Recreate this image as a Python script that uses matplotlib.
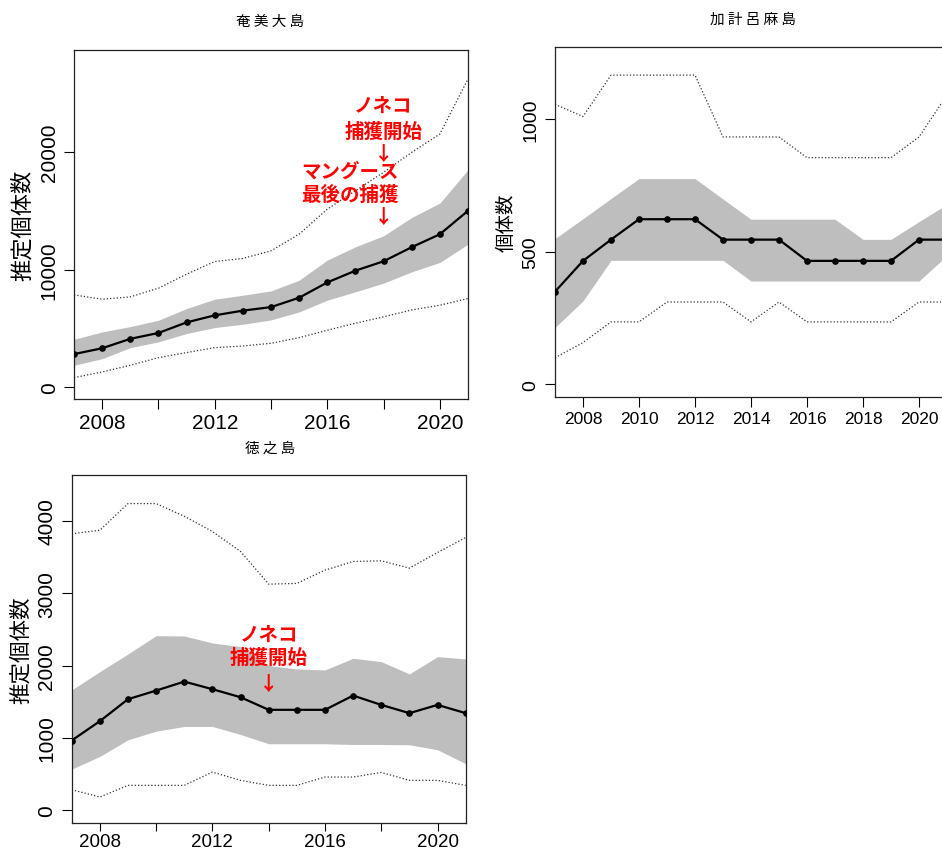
import numpy as np
import matplotlib
matplotlib.use('Agg')
import matplotlib.pyplot as plt

plt.rcParams['font.family'] = ['Liberation Sans', 'Noto Sans CJK JP', 'DejaVu Sans']

years = list(range(2007, 2022))

# 奄美大島
amami_mean = [2800, 3300, 4100, 4600, 5500, 6100, 6500, 6800, 7600, 8900, 9900, 10700, 11900, 13000, 15000]
amami_lo50 = [1850, 2410, 3350, 3840, 4550, 5060, 5340, 5710, 6390, 7390, 8100, 8840, 9800, 10600, 12160]
amami_hi50 = [4060, 4690, 5140, 5680, 6680, 7470, 7810, 8180, 9090, 10800, 11930, 12870, 14430, 15650, 18490]
amami_lo95 = [800, 1280, 1850, 2500, 2930, 3350, 3490, 3720, 4200, 4830, 5430, 5970, 6560, 6960, 7530]
amami_hi95 = [7840, 7470, 7670, 8410, 9600, 10680, 10940, 11590, 13010, 15140, 16700, 18270, 19970, 21530, 26220]

# 加計呂麻島
kakeroma_mean = [349, 465, 545, 622, 622, 622, 545, 545, 545, 465, 465, 465, 465, 545, 545]
kakeroma_lo50 = [214, 314, 467, 467, 467, 467, 467, 389, 389, 389, 389, 389, 389, 389, 485]
kakeroma_hi50 = [549, 624, 700, 775, 775, 775, 698, 622, 622, 622, 622, 546, 546, 613, 678]
kakeroma_lo95 = [100, 157, 235, 235, 310, 310, 310, 235, 310, 235, 235, 235, 235, 310, 310]
kakeroma_hi95 = [1055, 1009, 1165, 1165, 1165, 1165, 932, 932, 932, 854, 854, 854, 854, 932, 1090]

# 徳之島
toku_mean = [965, 1232, 1536, 1655, 1779, 1674, 1563, 1389, 1389, 1389, 1586, 1457, 1343, 1457, 1343]
toku_lo50 = [570, 745, 975, 1094, 1159, 1159, 1048, 920, 920, 920, 910, 910, 906, 837, 644]
toku_hi50 = [1664, 1917, 2161, 2414, 2409, 2313, 2262, 2000, 1954, 1940, 2101, 2055, 1885, 2124, 2092]
toku_lo95 = [285, 184, 345, 345, 345, 529, 414, 345, 345, 460, 460, 524, 414, 414, 345]
toku_hi95 = [3821, 3871, 4239, 4239, 4064, 3853, 3577, 3126, 3136, 3319, 3439, 3448, 3347, 3563, 3770]

W, H = 942, 854


def px_rect(left, top, right, bottom):
    # pixel box -> figure fraction [l, b, w, h]
    return [left / W, 1 - bottom / H, (right - left) / W, (bottom - top) / H]


def draw_panel(ax, mean, lo50, hi50, lo95, hi95, ylim, yticks, xticks, xlabels,
               ylabel, xsize=15, ysize=15, labsize=16, labpad=4, xpad=3, xtlen=7):
    ax.fill_between(years, lo50, hi50, color='#bebebe', lw=0, zorder=1)
    ax.plot(years, lo95, ls=':', color='#333333', lw=0.9, zorder=2)
    ax.plot(years, hi95, ls=':', color='#333333', lw=0.9, zorder=2)
    ax.plot(years, mean, '-o', color='k', lw=1.6, ms=3.8, zorder=3)
    ax.set_xlim(2007, 2021)
    ax.set_ylim(*ylim)
    ax.set_xticks(xticks)
    ax.set_xticklabels(xlabels)
    ax.set_yticks(yticks)
    ax.tick_params(axis='x', direction='out', length=xtlen, width=0.8, labelsize=xsize, pad=xpad)
    ax.tick_params(axis='y', direction='out', length=7, width=0.8, labelsize=ysize, pad=4,
                   labelrotation=90)
    for lab in ax.get_yticklabels():
        lab.set_va('center')
    for sp in ax.spines.values():
        sp.set_color('#222222')
        sp.set_linewidth(0.9)
    ax.set_ylabel(ylabel, fontsize=labsize, labelpad=labpad)


def main():
    fig = plt.figure(figsize=(W / 100, H / 100), dpi=100)

    xt = list(range(2008, 2021, 2))
    xl_sparse = [str(y) if (y - 2008) % 4 == 0 else '' for y in xt]
    xl_full = [str(y) for y in xt]

    ax1 = fig.add_axes(px_rect(74, 51, 468, 400))
    draw_panel(ax1, amami_mean, amami_lo50, amami_hi50, amami_lo95, amami_hi95,
               (-1020, 28680), [0, 10000, 20000], xt, xl_sparse, '推定個体数')
    red = dict(color='red', fontsize=14, fontweight='bold', ha='center', va='center',
               family=['Noto Sans CJK JP', 'DejaVu Sans'])
    ax1.text(2018, 24000, 'ノネコ', **red)
    ax1.text(2018, 21790, '捕獲開始', **red)
    ax1.text(2018, 19910, '↓', **red)
    ax1.text(2016.8, 18380, 'マングース', **red)
    ax1.text(2016.8, 16430, '最後の捕獲', **red)
    ax1.text(2018, 14470, '↓', **red)

    ax2 = fig.add_axes(px_rect(555, 48, 947, 398))
    draw_panel(ax2, kakeroma_mean, kakeroma_lo50, kakeroma_hi50, kakeroma_lo95, kakeroma_hi95,
               (-48, 1271), [0, 500, 1000], xt, xl_full, '個体数',
               xsize=12.5, ysize=14, labsize=14, labpad=5)

    ax3 = fig.add_axes(px_rect(71.7, 476, 465.7, 824))
    draw_panel(ax3, toku_mean, toku_lo50, toku_hi50, toku_lo95, toku_hi95,
               (-175, 4634), [0, 1000, 2000, 3000, 4000], xt, xl_sparse, '推定個体数',
               xsize=13.5, labsize=15.5, labpad=4, xpad=1, xtlen=6)
    ax3.text(2014, 2437, 'ノネコ', **red)
    ax3.text(2014, 2115, '捕獲開始', **red)
    ax3.text(2014, 1756, '↓', **red)

    ttl = dict(fontsize=10.5, ha='center', va='center', family=['Noto Sans CJK JP', 'DejaVu Sans'])
    fig.text(270 / W, 1 - 22 / H, '奄 美 大 島', **ttl)
    fig.text(753 / W, 1 - 20 / H, '加 計 呂 麻 島', **ttl)
    fig.text(270 / W, 1 - 449 / H, '徳 之 島', **ttl)

    fig.savefig('out.png', dpi=100)


if __name__ == '__main__':
    main()
